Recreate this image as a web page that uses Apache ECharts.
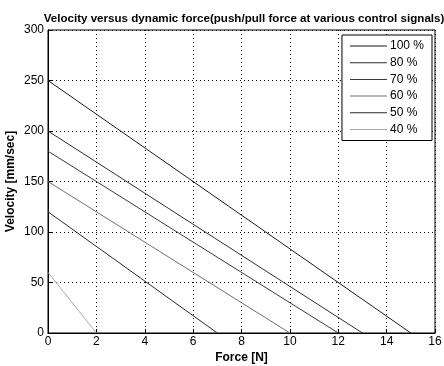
<!DOCTYPE html>
<html>
<head>
<meta charset="utf-8">
<script src="https://cdn.jsdelivr.net/npm/echarts@6/dist/echarts.min.js"></script>
<style>
html, body { margin: 0; padding: 0; background: #fff; }
#main { width: 444px; height: 366px; }
</style>
</head>
<body>
<div id="main"></div>
<script>
var names = ['100 %', '80 %', '70 %', '60 %', '50 %', '40 %'];
// each line: velocity at zero force, force at zero velocity
var startVel = [250, 200, 180, 150, 120, 60];
var endForce = [15, 13, 12, 10, 7, 2];
var colors = ['#1a1a1a', '#2e2e2e', '#3a3a3a', '#707070', '#2a2a2a', '#a8a8a8'];

var chart = echarts.init(document.getElementById('main'));
var font = 'Arial, "Liberation Sans", sans-serif';

var series = [];
for (var i = 0; i < names.length; i++) {
	series.push({
		name: names[i],
		type: 'line',
		data: [[0, startVel[i]], [endForce[i], 0]],
		symbol: 'none',
		lineStyle: { color: colors[i], width: 1 },
		itemStyle: { color: colors[i] },
		animation: false
	});
}

chart.setOption({
	backgroundColor: '#fff',
	title: {
		text: 'Velocity versus dynamic force(push/pull force at various control signals)',
		left: 239,
		textAlign: 'center',
		top: 8,
		textStyle: { fontSize: 11.6, fontWeight: 'bold', color: '#000', fontFamily: font }
	},
	grid: {
		left: 48, right: 9, top: 30, bottom: 33,
		outerBoundsMode: 'none',
		show: true, borderColor: '#000', borderWidth: 1
	},
	legend: {
		orient: 'vertical',
		right: 12,
		top: 35,
		itemWidth: 37,
		itemHeight: 1,
		itemGap: 2.7,
		padding: [4, 8, 4, 8],
		backgroundColor: '#fff',
		borderColor: '#000',
		borderWidth: 1,
		icon: 'rect',
		textStyle: { fontSize: 12, lineHeight: 14, color: '#000', fontFamily: font, padding: [0, 0, 0, -2] },
		data: names
	},
	xAxis: {
		type: 'value',
		min: 0, max: 16, interval: 2,
		name: 'Force [N]',
		nameLocation: 'middle',
		nameGap: 19,
		nameMoveOverlap: false,
		nameTextStyle: { fontSize: 12, fontWeight: 'bold', color: '#000', fontFamily: font },
		axisLine: { lineStyle: { color: '#000' } },
		axisTick: { inside: true, length: 4, lineStyle: { color: '#000' } },
		axisLabel: { fontSize: 12, color: '#000', fontFamily: font, margin: 3 },
		splitLine: { show: true, lineStyle: { color: '#000', type: [1, 3], width: 1 } }
	},
	yAxis: {
		type: 'value',
		min: 0, max: 300, interval: 50,
		name: 'Velocity [mm/sec]',
		nameLocation: 'middle',
		nameGap: 31,
		nameMoveOverlap: false,
		nameTextStyle: { fontSize: 12, fontWeight: 'bold', color: '#000', fontFamily: font },
		axisLine: { show: true, lineStyle: { color: '#000' } },
		axisTick: { show: true, inside: true, length: 4, lineStyle: { color: '#000' } },
		axisLabel: { fontSize: 12, color: '#000', fontFamily: font, margin: 4 },
		splitLine: { show: true, lineStyle: { color: '#000', type: [1, 3], width: 1 } }
	},
	series: series
});
</script>
</body>
</html>
